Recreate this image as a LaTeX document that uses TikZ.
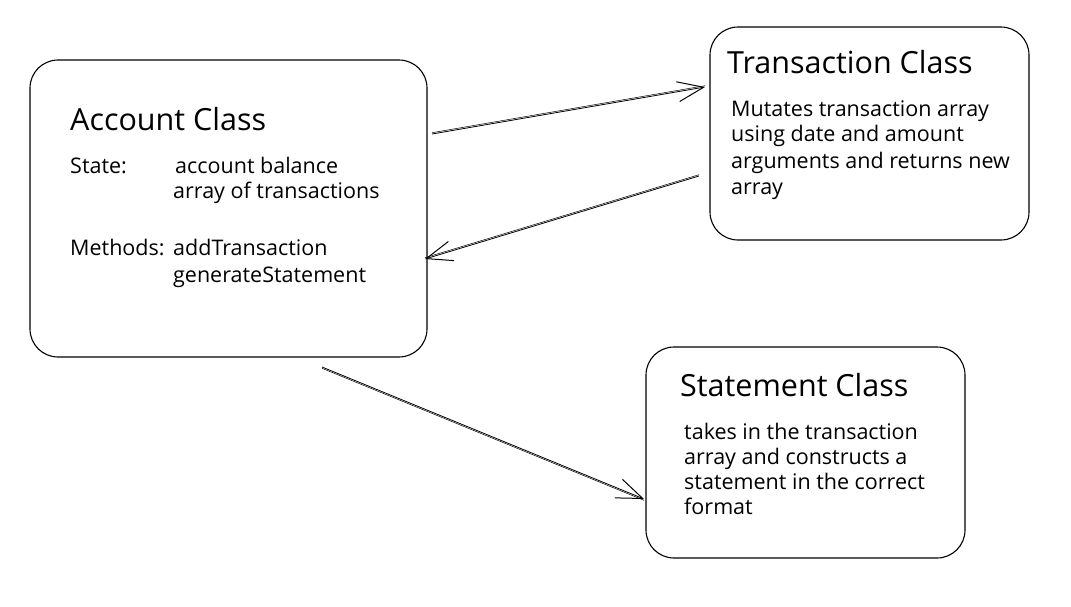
\documentclass[tikz,border=0pt]{standalone}
\usepackage{fontspec}
\setmainfont{Open Sans}
\usetikzlibrary{arrows.meta}
\begin{document}
\begin{tikzpicture}[x=1pt,y=-1pt,
  box/.style={draw,line width=1.1pt,rounded corners=28pt,inner sep=0pt},
  ttl/.style={anchor=base west,inner sep=0pt,font=\fontsize{30.5}{34}\selectfont},
  txt/.style={anchor=base west,inner sep=0pt,font=\fontsize{21.5}{25}\selectfont},
  conn/.style={line width=0.8pt,-{Straight Barb[length=26pt,width=20pt,line width=1pt]}},
  ghost/.style={line width=0.5pt}]
\useasboundingbox[fill=white] (0,0) rectangle (1071,606);
% boxes
\node[box,minimum width=397pt,minimum height=297pt] (acc) at (228.5,208.5) {};
\node[box,minimum width=319pt,minimum height=213pt] (trn) at (869.5,133.5) {};
\node[box,minimum width=319pt,minimum height=211pt] (stm) at (805.5,452.5) {};
% Account text
\node[ttl] (accT) at (70,130) {Account Class};
\node[txt] (st) at (70,173) {State:};
\node[txt] (st1) at (175,173) {account balance};
\node[txt] (st2) at (173,198) {array of transactions};
\node[txt] (me) at (70,255) {Methods:};
\node[txt] (me1) at (173,255) {addTransaction};
\node[txt] (me2) at (173,282) {generateStatement};
% Transaction text
\node[ttl] (trnT) at (727,73) {Transaction Class};
\node[txt] (t1) at (731,116) {Mutates transaction array};
\node[txt] (t2) at (731,141) {using date and amount};
\node[txt] (t3) at (731,168) {arguments and returns new};
\node[txt] (t4) at (731,194) {array};
% Statement text
\node[ttl] (stmT) at (680,396) {Statement Class};
\node[txt] (s1) at (684,439) {takes in the transaction};
\node[txt] (s2) at (684,464) {array and constructs a};
\node[txt] (s3) at (684,489) {statement in the correct};
\node[txt] (s4) at (684,514) {format};
% connectors
\coordinate (a1s) at (432,134);
\coordinate (a1e) at (705,87);
\coordinate (a2s) at (699,176);
\coordinate (a2e) at (425,259);
\coordinate (a3s) at (322,367);
\coordinate (a3e) at (644,499);
\draw[conn] (a1s) -- (a1e);
\draw[ghost] ([yshift=1.3pt]a1s) -- ([yshift=1.3pt]a1e);
\draw[conn] (a2s) -- (a2e);
\draw[ghost] ([yshift=1.3pt]a2s) -- ([yshift=1.3pt]a2e);
\draw[conn] (a3s) -- (a3e);
\draw[ghost] ([yshift=-1.3pt]a3s) -- ([yshift=-1.3pt]a3e);
\end{tikzpicture}
\end{document}
